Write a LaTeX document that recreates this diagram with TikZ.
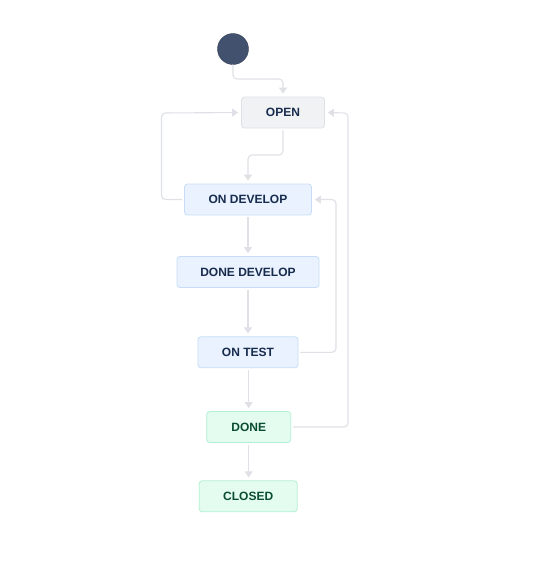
\documentclass[tikz,border=0pt]{standalone}
\usepackage{fontspec}
\setmainfont{Liberation Sans}
\usetikzlibrary{arrows.meta,calc}
\definecolor{linegray}{HTML}{DFE1E6}
\definecolor{navytext}{HTML}{172B4D}
\definecolor{greentext}{HTML}{0B4D33}
\definecolor{startfill}{HTML}{42526E}
\definecolor{grayfill}{HTML}{F1F2F4}
\definecolor{grayborder}{HTML}{DFE1E6}
\definecolor{bluefill}{HTML}{E9F2FE}
\definecolor{blueborder}{HTML}{C8DCF7}
\definecolor{greenfill}{HTML}{E3FCEF}
\definecolor{greenborder}{HTML}{B3F0D3}
\tikzset{
  x=1pt,y=-1pt,
  statebox/.style={rectangle,rounded corners=3pt,line width=0.8pt,inner sep=0pt,
    font=\fontsize{12}{14}\selectfont\bfseries},
  graystate/.style={statebox,fill=grayfill,draw=grayborder,text=navytext},
  bluestate/.style={statebox,fill=bluefill,draw=blueborder,text=navytext},
  greenstate/.style={statebox,fill=greenfill,draw=greenborder,text=greentext},
  conn/.style={draw=linegray,line width=1.1pt,rounded corners=4pt,
    -{Triangle[length=6pt,width=8pt]},shorten >=3pt,shorten <=2pt},
}
\begin{document}
\begin{tikzpicture}
\useasboundingbox[fill=white] (0,0) rectangle (552,582);
\node[circle,fill=startfill,draw=startfill!80!black,line width=0.4pt,minimum size=31pt,inner sep=0pt] (start) at (233,49) {};
\node[graystate,minimum width=83pt,minimum height=31pt] (open) at (283,112.5) {OPEN};
\node[bluestate,minimum width=127pt,minimum height=31pt] (ondev) at (248,199.5) {ON DEVELOP};
\node[bluestate,minimum width=142pt,minimum height=31pt] (donedev) at (248,272) {DONE DEVELOP};
\node[bluestate,minimum width=100pt,minimum height=31pt] (ontest) at (248,352.3) {ON TEST};
\node[greenstate,minimum width=84pt,minimum height=31pt] (done) at (248.7,427) {DONE};
\node[greenstate,minimum width=98pt,minimum height=31pt] (closed) at (248.2,496.3) {CLOSED};

\draw[conn,shorten <=0pt] (start.south) |- (283,79) -- (open.north);
\draw[conn] (open.south) -- (283,155) -| (ondev.north -| 248,0);
\draw[conn] (ondev.west) -| (161.5,113) -- (open.west);
\draw[conn] (ondev.south) -- (donedev.north);
\draw[conn] (donedev.south) -- (ontest.north);
\draw[conn] (ontest.east) -| (336,199.5) -- (ondev.east);
\draw[conn] (ontest.south -| 248.7,0) -- (done.north);
\draw[conn] (done.east) -| (348,113) -- (open.east);
\draw[conn] (done.south) -- (closed.north -| done.south);
\end{tikzpicture}
\end{document}
